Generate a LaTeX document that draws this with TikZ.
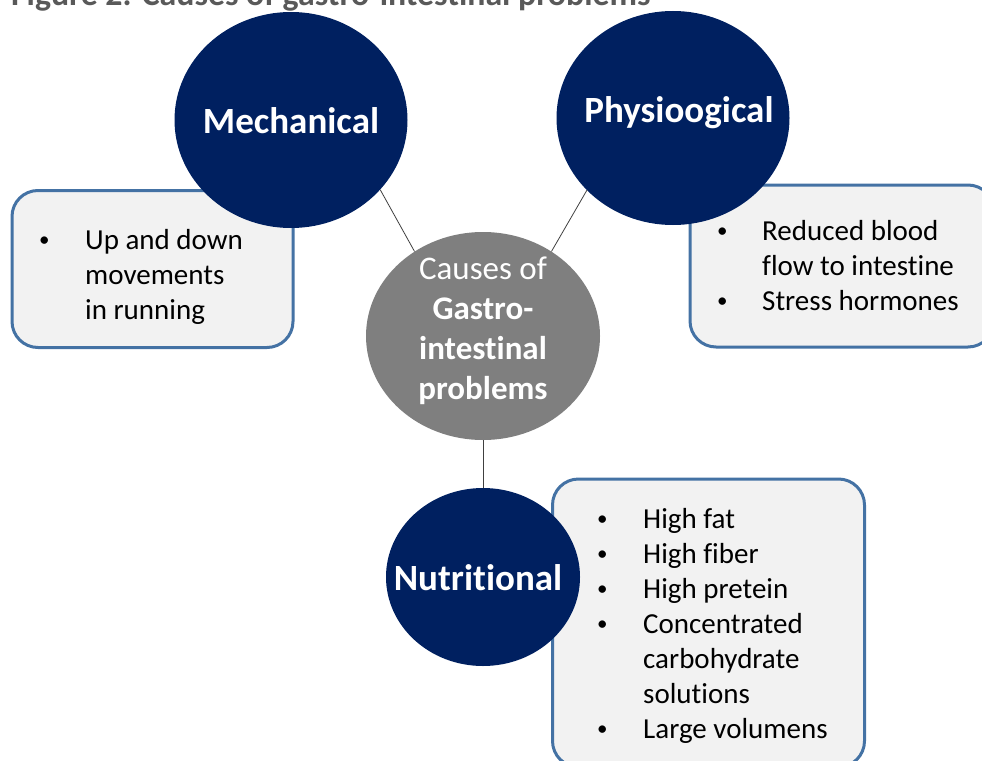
\documentclass[tikz,border=0pt]{standalone}
\usepackage{fontspec}
\setmainfont{Carlito}[Ligatures=NoCommon]
\usetikzlibrary{shapes.geometric}

\definecolor{navy}{HTML}{002060}
\definecolor{hubgray}{HTML}{7F7F7F}
\definecolor{boxfill}{HTML}{F2F2F2}
\definecolor{boxline}{HTML}{4472A4}
\definecolor{titlegray}{HTML}{595959}

\newcommand{\dotmark}{\hspace{1pt}\raisebox{3pt}{\fontsize{21}{21}\selectfont\textbullet}}

\tikzset{
  cause/.style={ellipse, fill=navy, inner sep=0pt},
  causetext/.style={anchor=base, text=white, inner sep=0pt, font=\fontsize{37}{44}\selectfont\bfseries},
  listbox/.style={draw=boxline, line width=3pt, fill=boxfill, rounded corners=26pt, inner sep=0pt},
  listtext/.style={anchor=base west, inner sep=0pt, font=\fontsize{29}{35}\selectfont},
  link/.style={draw=black!75, line width=0.8pt}
}

\begin{document}
\begin{tikzpicture}[x=1pt, y=-1pt]
   \useasboundingbox (0,0) rectangle (982,760);

   %TITLE
   \node (title) at (11,6) [anchor=base west, inner sep=0pt, text=titlegray, font=\fontsize{33.8}{40}\selectfont\bfseries] {Figure 2. Causes of gastro-intestinal problems};

   %BOXES
   \node (mechbox) at (152.5,269) [listbox, minimum width=281pt, minimum height=157pt] {};
   \node (physbox) at (842,266) [listbox, minimum width=304pt, minimum height=162pt] {};
   \node (nutbox) at (708.5,623) [listbox, minimum width=312pt, minimum height=288pt] {};

   \node (mechlist) at (38,249) [listtext] {\begin{tabular}[t]{@{}p{47pt}@{}l@{}}
      \dotmark & Up and down\\ & movements\\ & in running\end{tabular}};
   \node (physlist) at (716,240) [listtext] {\begin{tabular}[t]{@{}p{46pt}@{}l@{}}
      \dotmark & Reduced blood\\ & flow to intestine\\ \dotmark & Stress hormones\end{tabular}};
   \node (nutlist) at (596,528) [listtext] {\begin{tabular}[t]{@{}p{47pt}@{}l@{}}
      \dotmark & High fat\\ \dotmark & High fiber\\ \dotmark & High pretein\\
      \dotmark & Concentrated\\ & carbohydrate\\ & solutions\\ \dotmark & Large volumens\end{tabular}};

   %CIRCLES
   \node (hub) at (483,336) [ellipse, fill=hubgray, inner sep=0pt, minimum width=234pt, minimum height=208pt] {};
   \node (mech) at (291,120) [cause, minimum width=233pt, minimum height=216pt] {};
   \node (phys) at (673,118) [cause, minimum width=233pt, minimum height=214pt] {};
   \node (nut) at (483,577) [cause, minimum width=194pt, minimum height=178pt] {};

   %LINKS
   \draw [link] (mech.-38) -- (hub.129);
   \draw [link] (phys.-140) -- (hub.51);
   \draw [link] (hub.south) -- (nut.north);

   %LABELS
   \node (hubtext) at (483,279) [anchor=base, text=white, inner sep=0pt, font=\fontsize{33}{40}\selectfont] {\begin{tabular}[t]{@{}c@{}}
      Causes of\\ \textbf{Gastro-}\\ \textbf{intestinal}\\ \textbf{problems}\end{tabular}};
   \node (mechtext) at (291,133) [causetext] {Mechanical};
   \node (phystext) at (679,122) [causetext] {Physioogical};
   \node (nuttext) at (478,590) [causetext] {Nutritional};
\end{tikzpicture}
\end{document}
